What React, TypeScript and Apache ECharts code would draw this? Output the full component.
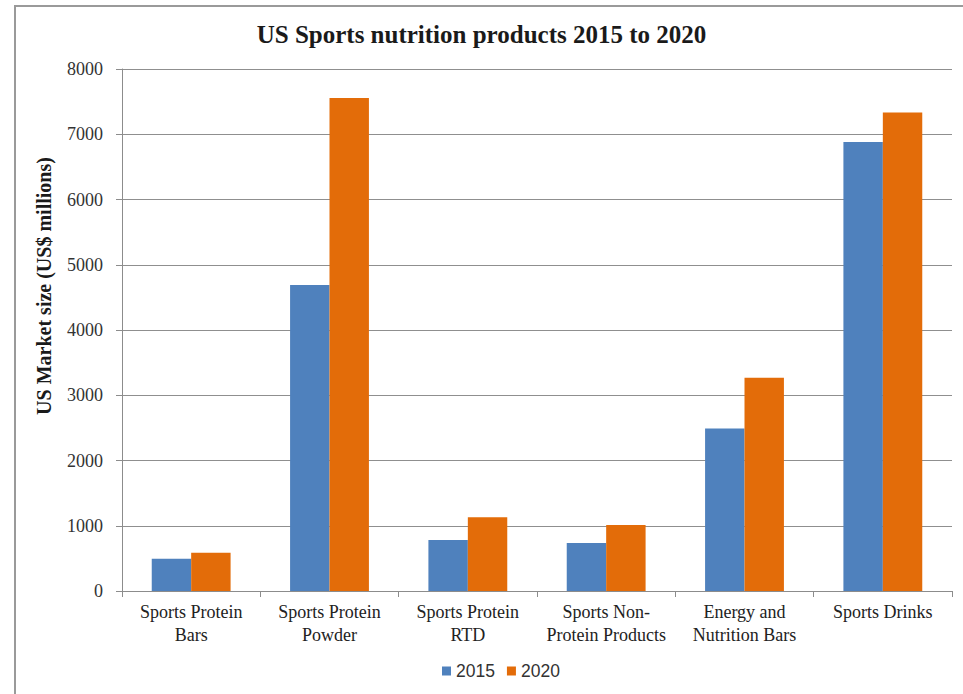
import React, { useEffect, useRef } from "react";
import * as echarts from "echarts";

const categories = [
  "Sports Protein\nBars",
  "Sports Protein\nPowder",
  "Sports Protein\nRTD",
  "Sports Non-\nProtein Products",
  "Energy and\nNutrition Bars",
  "Sports Drinks",
];
const values2015 = [495, 4690, 780, 735, 2490, 6880];
const values2020 = [585, 7555, 1130, 1010, 3270, 7335];
const seriesNames = ["2015", "2020"];
const titleText = "US Sports nutrition products 2015 to 2020";
const yAxisTitle = "US Market size (US$ millions)";

export default function App() {
  const ref = useRef<HTMLDivElement>(null);
  useEffect(() => {
    if (!ref.current) return;
    const chart = echarts.init(ref.current, null, { renderer: "svg" });
    const serif = "'Liberation Serif', 'DejaVu Serif', serif";
    chart.setOption({
      animation: false,
      backgroundColor: "#ffffff",
      title: {
        text: titleText,
        left: "center",
        top: 17,
        textStyle: { fontFamily: serif, fontSize: 25, fontWeight: "bold", color: "#1a1a1a" },
      },
      legend: {
        bottom: 9,
        left: 437,
        itemWidth: 9,
        itemHeight: 9,
        itemGap: 12,
        icon: "rect",
        textStyle: { fontFamily: "'Liberation Sans', sans-serif", fontSize: 17.5, color: "#333" },
        data: seriesNames,
      },
      graphic: [
        {
          type: "rect",
          shape: { x: 15, y: 6, width: 980, height: 720 },
          style: { fill: "none", stroke: "#9a9a9a", lineWidth: 2 },
          silent: true,
        },
        {
          type: "text",
          x: 44,
          y: 286,
          rotation: Math.PI / 2,
          style: {
            text: yAxisTitle,
            fontFamily: serif,
            fontSize: 20,
            fontWeight: "bold",
            fill: "#1a1a1a",
            align: "center",
            verticalAlign: "middle",
          },
        },
      ],
      grid: { left: 122, right: 11, top: 69, bottom: 103, containLabel: false },
      xAxis: {
        type: "category",
        data: categories,
        axisLine: { lineStyle: { color: "#8c8c8c", width: 1 } },
        axisTick: { show: true, alignWithLabel: false, length: 6, lineStyle: { color: "#8c8c8c" } },
        axisLabel: {
          fontFamily: serif,
          fontSize: 18,
          color: "#222",
          lineHeight: 23,
          margin: 9,
          interval: 0,
        },
      },
      yAxis: {
        type: "value",
        min: 0,
        max: 8000,
        interval: 1000,
        axisLine: { show: true, lineStyle: { color: "#8c8c8c", width: 1 } },
        axisTick: { show: true, length: 6, lineStyle: { color: "#8c8c8c" } },
        axisLabel: {
          fontFamily: serif,
          fontSize: 18,
          color: "#333",
          margin: 19,
          formatter: (v: number) => String(v),
        },
        splitLine: { lineStyle: { color: "#8f8f8f", width: 1 } },
      },
      series: [
        {
          name: seriesNames[0],
          type: "bar",
          data: values2015,
          barGap: "0%",
          barCategoryGap: "43%",
          itemStyle: { color: "#4F81BD" },
        },
        {
          name: seriesNames[1],
          type: "bar",
          data: values2020,
          barGap: "0%",
          barCategoryGap: "43%",
          itemStyle: { color: "#E36C09" },
        },
      ],
    });
    return () => chart.dispose();
  }, []);
  return (
    <div
      ref={ref}
      style={{ position: "fixed", left: 0, top: 0, width: 963, height: 694 }}
    />
  );
}
